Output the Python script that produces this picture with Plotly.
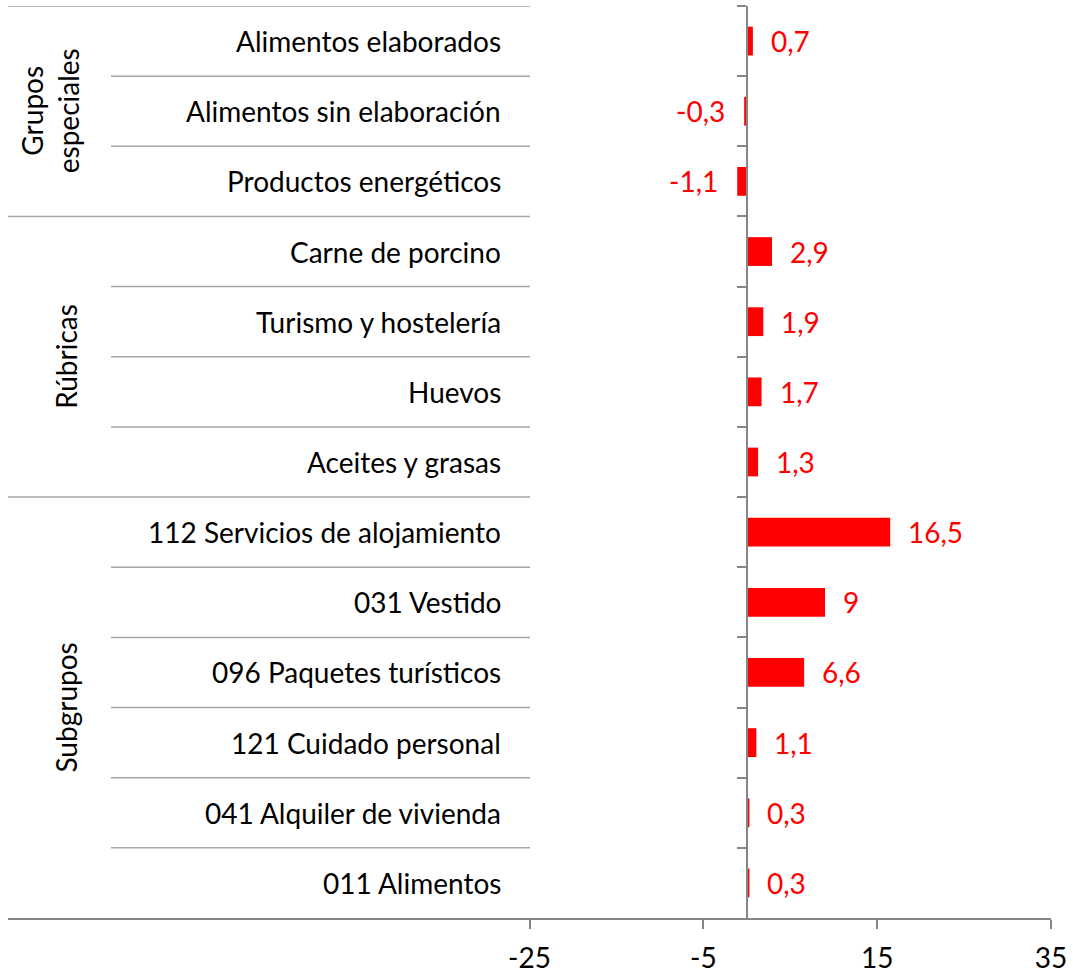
import plotly.graph_objects as go

# ---- data ----
groups = ["Grupos<br>especiales", "Rúbricas", "Subgrupos"]
group_sizes = [3, 4, 6]
categories = [
    "Alimentos elaborados",
    "Alimentos sin elaboración",
    "Productos energéticos",
    "Carne de porcino",
    "Turismo y hostelería",
    "Huevos",
    "Aceites y grasas",
    "112 Servicios de alojamiento",
    "031 Vestido",
    "096 Paquetes turísticos",
    "121 Cuidado personal",
    "041 Alquiler de vivienda",
    "011 Alimentos",
]
values = [0.7, -0.3, -1.1, 2.9, 1.9, 1.7, 1.3, 16.5, 9, 6.6, 1.1, 0.3, 0.3]
x_ticks = [-25, -5, 15, 35]

# ---- layout constants ----
W, H = 1073, 975
ML, MR, MT, MB = 8, 22, 6, 57
PLOT_W = W - ML - MR
XMIN, XMAX = -85, 35
FONT = "Lato"
FS = 28
LINE = "#a6a6a6"
AXIS = "#868686"
RED = "#FF0000"


def px(p):
    """pixel x -> paper fraction"""
    return (p - ML) / PLOT_W


n = len(categories)

fig = go.Figure()
fig.add_trace(go.Bar(
    x=values, y=categories, orientation="h",
    marker=dict(color=RED, line=dict(width=0)),
    width=0.41, hoverinfo="x+y",
))

annotations = []
# category labels
for c in categories:
    annotations.append(dict(
        x=px(503), xref="paper", y=c, yref="y", text=c, showarrow=False,
        xanchor="right", yanchor="middle",
        font=dict(family=FONT, size=FS, color="#000000"),
    ))
# data labels
for c, v in zip(categories, values):
    lab = f"{v:g}".replace(".", ",")
    annotations.append(dict(
        x=v, xref="x", y=c, yref="y", text=lab, showarrow=False,
        xanchor="left" if v >= 0 else "right", yanchor="middle",
        xshift=16 if v >= 0 else -17,
        font=dict(family=FONT, size=FS, color=RED),
    ))
# group labels
start = 0
for g, s in zip(groups, group_sizes):
    mid = start + (s - 1) / 2
    two = "<br>" in g
    annotations.append(dict(
        x=px(50 if two else 66), xref="paper", y=mid, yref="y", text=g,
        showarrow=False, textangle=-90, xanchor="center", yanchor="middle",
        font=dict(family=FONT, size=FS, color="#000000"),
    ))
    start += s

shapes = []
# separators
boundaries_group = [-0.5]
acc = -0.5
for s in group_sizes[:-1]:
    acc += s
    boundaries_group.append(acc)
for b in [i - 0.5 for i in range(n)]:
    x0 = px(8) if b in boundaries_group else px(111)
    shapes.append(dict(type="line", xref="paper", yref="y", x0=x0, x1=px(530),
                       y0=b, y1=b, line=dict(color=LINE, width=1.5)))

fig.update_layout(
    width=W, height=H,
    margin=dict(l=ML, r=MR, t=MT, b=MB, autoexpand=False),
    paper_bgcolor="white", plot_bgcolor="white",
    showlegend=False,
    xaxis=dict(
        range=[XMIN, XMAX], tickvals=x_ticks, ticktext=[str(t) for t in x_ticks],
        showgrid=False, zeroline=False, showline=True, linecolor=AXIS, linewidth=1.5,
        ticks="outside", ticklen=9, tickcolor=AXIS, tickwidth=1.5,
        tickfont=dict(family=FONT, size=FS, color="#000000"),
        ticklabelstandoff=6, automargin=False,
    ),
    yaxis=dict(
        type="category", categoryorder="array", categoryarray=categories,
        range=[n - 0.5, -0.5], anchor="free", position=(0 - XMIN) / (XMAX - XMIN),
        showline=True, linecolor=AXIS, linewidth=1.5,
        ticks="outside", ticklen=9, tickcolor=AXIS, tickwidth=1.5,
        tickson="boundaries", showticklabels=False, showgrid=False, zeroline=False,
        automargin=False,
    ),
    annotations=annotations,
    shapes=shapes,
)

fig.write_html(
    "out.html",
    config={"displayModeBar": False},
    post_script="document.body.style.margin='0';document.body.style.overflow='hidden';",
)
